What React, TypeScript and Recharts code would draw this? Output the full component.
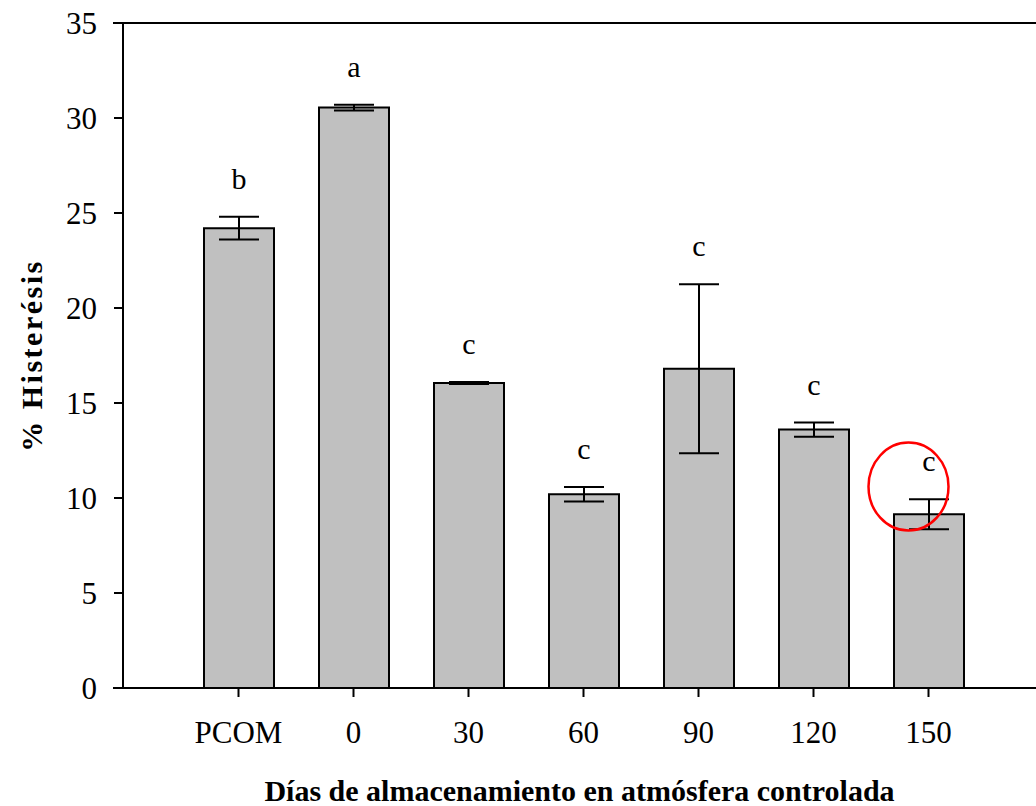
import { BarChart, Bar, XAxis, YAxis, ErrorBar, LabelList, ReferenceLine, ReferenceDot } from "recharts";

const categories = ["PCOM", "0", "30", "60", "90", "120", "150"];
const means = [24.2, 30.55, 16.05, 10.2, 16.8, 13.6, 9.15];
const errors = [0.6, 0.15, 0.05, 0.38, 4.45, 0.37, 0.79];
const letters = ["b", "a", "c", "c", "c", "c", "c"];
const yTicks = [0, 5, 10, 15, 20, 25, 30, 35];

const data = categories.map((day, i) => ({
  day,
  mean: means[i],
  err: errors[i],
  letter: letters[i],
}));

const FONT = "'Liberation Serif', 'Times New Roman', serif";

function LetterLabel(props: any) {
  const { x = 0, y = 0, width = 0, height = 0, index = 0 } = props;
  const d = data[index];
  const pxPerUnit = height / d.mean;
  const errTop = y - d.err * pxPerUnit;
  return (
    <text
      x={x + width / 2}
      y={errTop - 28}
      textAnchor="middle"
      fontFamily={FONT}
      fontSize={30}
      fill="#000"
    >
      {d.letter}
    </text>
  );
}

function YTitle(props: any) {
  const vb = props.viewBox || { x: 0, y: 0, height: 0 };
  return (
    <text
      transform={`translate(31, ${vb.y + vb.height / 2}) rotate(-90)`}
      textAnchor="middle"
      dominantBaseline="central"
      fontFamily={FONT}
      fontSize={30}
      fontWeight="bold"
      letterSpacing={2.5}
      fill="#000"
    >
      % Histerésis
    </text>
  );
}

function XTitle(props: any) {
  const vb = props.viewBox || { x: 0, y: 0, width: 0 };
  return (
    <text
      x={vb.x + vb.width / 2}
      y={801}
      textAnchor="middle"
      fontFamily={FONT}
      fontSize={30}
      fontWeight="bold"
      fill="#000"
    >
      Días de almacenamiento en atmósfera controlada
    </text>
  );
}

// frame line that starts a bit left of the y axis, as in the original
function FrameLine(props: any) {
  const { x1 = 0, y1 = 0, x2 = 0, y2 = 0 } = props;
  return <line x1={x1 - 10} y1={y1} x2={x2} y2={y2} stroke="#000" strokeWidth={2} />;
}

export default function App() {
  return (
    <div style={{ position: "absolute", left: 0, top: 0, background: "#fff" }}>
      <BarChart
        width={1036}
        height={806}
        data={data}
        margin={{ top: 23, right: 0, left: 0, bottom: 0 }}
        barCategoryGap={45}
      >
        <XAxis
          dataKey="day"
          height={118}
          padding={{ left: 58, right: 50 }}
          axisLine={{ stroke: "#000", strokeWidth: 2 }}
          tickLine={{ stroke: "#000", strokeWidth: 2 }}
          tickSize={9}
          tickMargin={24}
          tick={{ fontFamily: FONT, fontSize: 31, fill: "#000" }}
          label={<XTitle />}
        />
        <YAxis
          width={123}
          domain={[0, 35]}
          ticks={yTicks}
          interval={0}
          axisLine={{ stroke: "#000", strokeWidth: 2 }}
          tickLine={{ stroke: "#000", strokeWidth: 2 }}
          tickSize={9}
          tickMargin={17}
          tick={{ fontFamily: FONT, fontSize: 31, fill: "#000" }}
          label={<YTitle />}
        />
        <ReferenceLine y={35} stroke="#000" strokeWidth={2} shape={FrameLine} />
        <ReferenceLine y={0} stroke="#000" strokeWidth={2} shape={FrameLine} />
        <Bar
          dataKey="mean"
          fill="#c0c0c0"
          stroke="#000"
          strokeWidth={2}
          barSize={70}
          isAnimationActive={false}
        >
          <ErrorBar dataKey="err" width={20} stroke="#000" strokeWidth={2} />
          <LabelList content={<LetterLabel />} />
        </Bar>
        <ReferenceDot
          x="150"
          y={10.6}
          r={40}
          shape={(p: any) => (
            <ellipse cx={p.cx - 20} cy={p.cy} rx={40} ry={44} fill="none" stroke="#ff0000" strokeWidth={2.5} />
          )}
        />
      </BarChart>
    </div>
  );
}
